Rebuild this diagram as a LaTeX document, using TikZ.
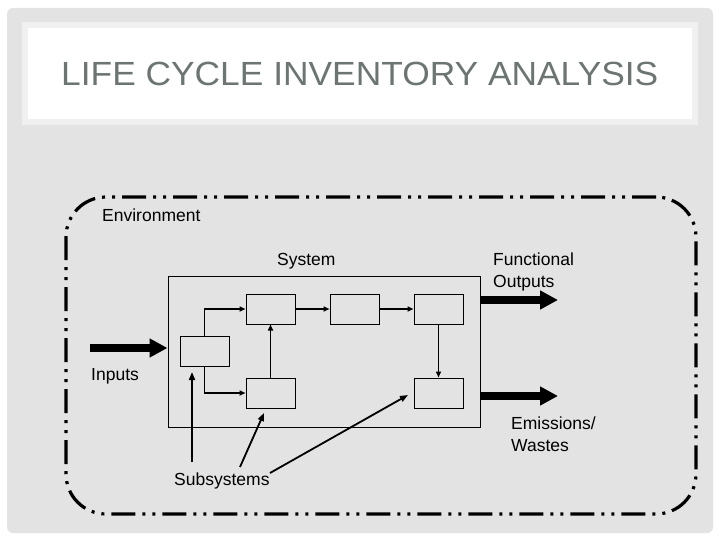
\documentclass[tikz,border=0pt]{standalone}
\usepackage{fontspec}
\setmainfont{Liberation Sans}
\usetikzlibrary{arrows.meta,positioning,calc}
\definecolor{slidegray}{RGB}{227,227,227}
\definecolor{bandgray}{RGB}{240,240,240}
\definecolor{titlegray}{RGB}{108,117,114}
\tikzset{
  lbl/.style={font=\fontsize{17.5pt}{22pt}\selectfont, inner sep=0pt, align=left, text=black},
  subbox/.style={draw=black, line width=1pt, minimum width=49pt, minimum height=30pt, inner sep=0pt},
  sysbox/.style={draw=black, line width=1pt, minimum width=312pt, minimum height=151pt, inner sep=0pt},
  envbox/.style={draw=black, line width=3.2pt, rounded corners=40pt, minimum width=630pt, minimum height=317pt, inner sep=0pt,
     dash pattern=on 24pt off 7pt on 3pt off 7pt on 3pt off 7pt},
  flow/.style={draw=black, line width=1.8pt, -{Triangle[length=6pt,width=5pt]}},
  bigflow/.style={draw=black, line width=8.5pt, -{Triangle[length=18pt,width=18pt]}},
  pointer/.style={draw=black, line width=1.8pt, -{Triangle[length=8pt,width=6pt]}}
}
\begin{document}
\begin{tikzpicture}[x=1pt,y=-1pt]
\useasboundingbox (0,0) rectangle (720,540);
\fill[white] (0,0) rectangle (720,540);
\fill[slidegray, rounded corners=6pt] (7,8) rectangle (713,533);
\fill[bandgray] (22,22) rectangle (698,125);
\fill[white] (28,28) rectangle (692,119);
\node[inner sep=0pt, text=titlegray, anchor=west, font=\fontsize{33.5pt}{40pt}\selectfont] (title) at (61,74) {\scalebox{1.055}[1]{LIFE CYCLE INVENTORY ANALYSIS}};

% environment
\node[envbox] (env) at (381,355.5) {};
\node[lbl, anchor=west] (envlbl) at (102,215) {Environment};

% system
\node[sysbox] (sys) at (324,351.5) {};
\node[lbl, anchor=west] (syslbl) at (277,261) {System};

% subsystems
\node[subbox] (A) at (204.5,351) {};
\node[subbox] (B) at (270.5,309) {};
\node[subbox] (C) at (354.5,309) {};
\node[subbox] (D) at (438.5,309) {};
\node[subbox] (E) at (270.5,393) {};
\node[subbox] (F) at (438.5,393) {};

\draw[flow] (A.north) |- (B.west);
\draw[flow] (A.south) |- (E.west);
\draw[flow] (E.north) -- (B.south);
\draw[flow] (B.east) -- (C.west);
\draw[flow] (C.east) -- (D.west);
\draw[flow] (D.south) -- (F.north);

% inputs / outputs
\coordinate (inS) at (90,348);
\coordinate (foE) at (558,300);
\coordinate (emE) at (558,396);
\draw[bigflow] (inS) -- (sys.west |- inS);
\draw[bigflow] (sys.east |- foE) -- (foE);
\draw[bigflow] (sys.east |- emE) -- (emE);
\node[lbl, anchor=west] (inlbl) at (91,376) {Inputs};
\node[lbl, anchor=west] (folbl) at (493,271.5) {Functional\\Outputs};
\node[lbl, anchor=west] (emlbl) at (511,434) {Emissions/\\Wastes};

% subsystems label and pointers
\node[lbl, anchor=west] (sublbl) at (174,481) {Subsystems};
\coordinate (p1s) at (192,462);
\coordinate (p1e) at (192,372);
\coordinate (p2s) at (240,467);
\coordinate (p2e) at (264,413);
\coordinate (p3s) at (270,473);
\coordinate (p3e) at (408,395);
\draw[pointer] (p1s) -- (p1e);
\draw[pointer] (p2s) -- (p2e);
\draw[pointer] (p3s) -- (p3e);
\end{tikzpicture}
\end{document}
